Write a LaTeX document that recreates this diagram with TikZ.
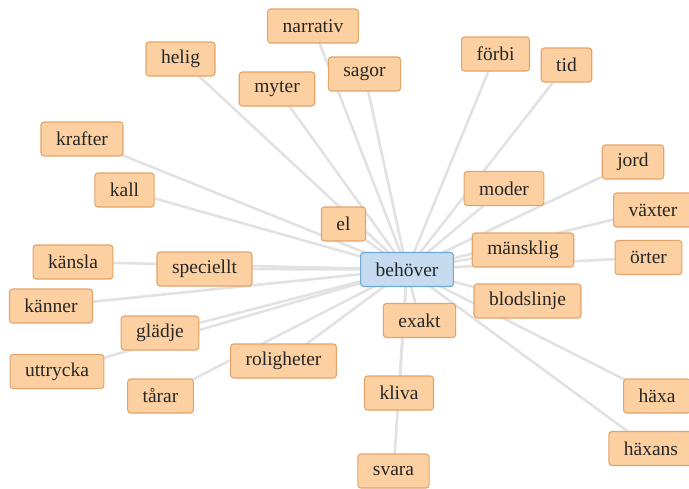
\documentclass[tikz,border=0pt]{standalone}
\usepackage{fontspec}
\setmainfont{Liberation Serif}
\usetikzlibrary{backgrounds}
\definecolor{boxfill}{HTML}{FDD0A2}
\definecolor{boxline}{HTML}{E3A46C}
\definecolor{hubfill}{HTML}{C6DBEF}
\definecolor{hubline}{HTML}{6FA8D0}
\definecolor{edgecol}{HTML}{E2E2E2}
\definecolor{txt}{HTML}{262626}

\begin{document}
\begin{tikzpicture}[x=1pt,y=-1pt,
  word/.style={draw=boxline,fill=boxfill,rounded corners=3pt,line width=1.1pt,minimum height=34pt,inner xsep=15pt,text=txt,font=\fontsize{19.5}{21}\selectfont},
  hub/.style={word,draw=hubline,fill=hubfill},
  edge/.style={edgecol,line width=2.6pt}]
\useasboundingbox (0,0) rectangle (689,488);
\node[hub] (behover) at (407,269.5) {behöver};
% upper left
\node[word] (helig) at (180.5,59) {helig};
\node[word] (narrativ) at (313,26) {narrativ};
\node[word] (myter) at (277,89) {myter};
\node[word] (sagor) at (364.5,74) {sagor};
\node[word] (krafter) at (82,139) {krafter};
\node[word] (kall) at (124.5,190) {kall};
\node[word] (el) at (343.5,224) {el};
% upper right
\node[word] (forbi) at (495.5,54) {förbi};
\node[word] (tid) at (566.5,65) {tid};
\node[word] (jord) at (633,162) {jord};
\node[word] (moder) at (504,188.5) {moder};
\node[word] (vaxter) at (653,210) {växter};
\node[word] (mansklig) at (523,250) {mänsklig};
\node[word] (orter) at (648.5,257.5) {örter};
\node[word] (blodslinje) at (527.5,301) {blodslinje};
% lower right
\node[word] (exakt) at (419.5,320.5) {exakt};
\node[word] (kliva) at (399,393) {kliva};
\node[word] (svara) at (393.5,471) {svara};
\node[word] (haxa) at (657,396) {häxa};
\node[word] (haxans) at (651,448.5) {häxans};
% left
\node[word] (kansla) at (73,262) {känsla};
\node[word] (speciellt) at (204.5,269) {speciellt};
\node[word] (kanner) at (51,306) {känner};
\node[word] (gladje) at (160,333) {glädje};
\node[word] (uttrycka) at (57,371.5) {uttrycka};
\node[word] (tarar) at (160.5,396) {tårar};
\node[word] (roligheter) at (283.5,361) {roligheter};
\begin{scope}[on background layer]
\foreach \w in {helig,narrativ,myter,sagor,krafter,kall,el,forbi,tid,jord,moder,vaxter,mansklig,orter,blodslinje,exakt,kliva,svara,haxa,haxans,kansla,speciellt,kanner,gladje,uttrycka,tarar,roligheter}
  \draw[edge] (behover.center) -- (\w.center);
\end{scope}
\end{tikzpicture}
\end{document}
